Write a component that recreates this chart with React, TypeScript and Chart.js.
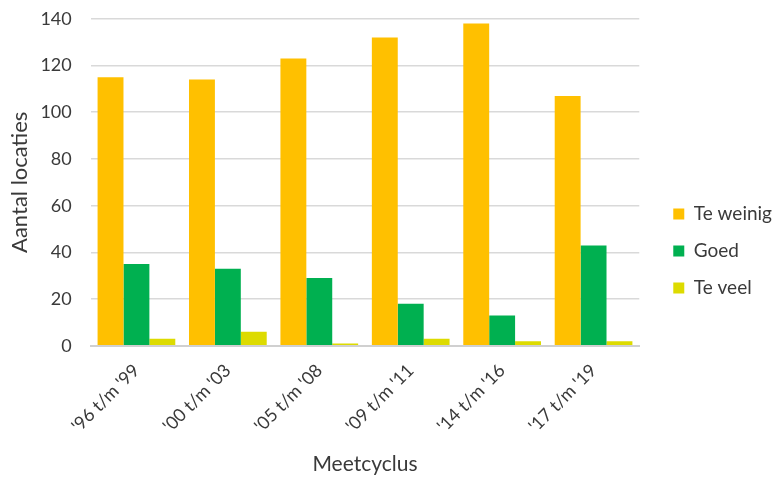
import React, { useEffect, useRef } from "react";
import { Chart, registerables } from "chart.js";

Chart.register(...registerables);

const categories = ["'96 t/m '99", "'00 t/m '03", "'05 t/m '08", "'09 t/m '11", "'14 t/m '16", "'17 t/m '19"];
const teWeinig = [115, 114, 123, 132, 138, 107];
const goed = [35, 33, 29, 18, 13, 43];
const teVeel = [3, 6, 1, 3, 2, 2];

const FONT = "Lato, 'Open Sans', sans-serif";
const TEXT = "#3a3a3a";

// room kept free between plot and legend; the legend itself is slid back into it
const LEGEND_GAP = 9;
const LEGEND_NUDGE = 7;
const LEGEND_DROP = 11.5;

// horizontal gap between y tick labels and the plot, and the smaller
// vertical allowance those labels need above the top gridline
const Y_TICK_GAP = 19;
const Y_TICK_TOP = 8;

const legendShift = {
  id: "legendShift",
  afterLayout(chart: any) {
    const lg = chart.legend;
    if (!lg) return;
    const dx = LEGEND_GAP + LEGEND_NUDGE;
    lg.left += dx;
    lg.right += dx;
    lg.top += LEGEND_DROP;
    lg.bottom += LEGEND_DROP;
  },
};

export default function App() {
  const ref = useRef<HTMLCanvasElement>(null);

  useEffect(() => {
    if (!ref.current) return;
    const chart = new Chart(ref.current, {
      type: "bar",
      data: {
        labels: categories,
        datasets: [
          { label: "Te weinig", data: teWeinig, backgroundColor: "#FFC000" },
          { label: "Goed", data: goed, backgroundColor: "#00B050" },
          { label: "Te veel", data: teVeel, backgroundColor: "#DDDB00" },
        ],
      },
      plugins: [legendShift],
      options: {
        animation: false,
        responsive: false,
        maintainAspectRatio: false,
        datasets: { bar: { categoryPercentage: 0.85, barPercentage: 1 } },
        layout: { padding: { left: 7, right: LEGEND_GAP, top: 2, bottom: 0 } },
        plugins: {
          tooltip: { enabled: false },
          legend: {
            position: "right",
            labels: {
              boxWidth: 11,
              boxHeight: 11,
              padding: 18,
              color: TEXT,
              font: { family: FONT, size: 19 },
            },
          },
        },
        scales: {
          x: {
            grid: { display: false, drawTicks: false },
            border: { color: "#d0d0d0", width: 2 },
            ticks: {
              color: TEXT,
              font: { family: FONT, size: 18 },
              maxRotation: 45,
              minRotation: 45,
              padding: 14,
            },
            title: {
              display: true,
              text: "Meetcyclus",
              color: TEXT,
              font: { family: FONT, size: 21 },
              padding: { top: 1, bottom: 0 },
            },
          },
          y: {
            min: 0,
            max: 140,
            grid: { color: "#d9d9d9", lineWidth: 1.5, drawTicks: false },
            border: { display: false },
            ticks: {
              stepSize: 20,
              color: TEXT,
              font: { family: FONT, size: 18 },
              padding: Y_TICK_GAP,
            },
            afterFit(scale: any) {
              const d = Y_TICK_GAP - Y_TICK_TOP;
              scale.paddingTop = Math.max(0, scale.paddingTop - d);
              scale.paddingBottom = Math.max(0, scale.paddingBottom - d);
            },
            title: {
              display: true,
              text: "Aantal locaties",
              color: TEXT,
              font: { family: FONT, size: 22 },
              padding: { top: 0, bottom: -12 },
            },
          },
        },
      },
    });
    return () => chart.destroy();
  }, []);

  return (
    <div style={{ position: "fixed", left: 0, top: 0, width: 775, height: 477, background: "#fff" }}>
      <canvas ref={ref} width={775} height={477} />
    </div>
  );
}
